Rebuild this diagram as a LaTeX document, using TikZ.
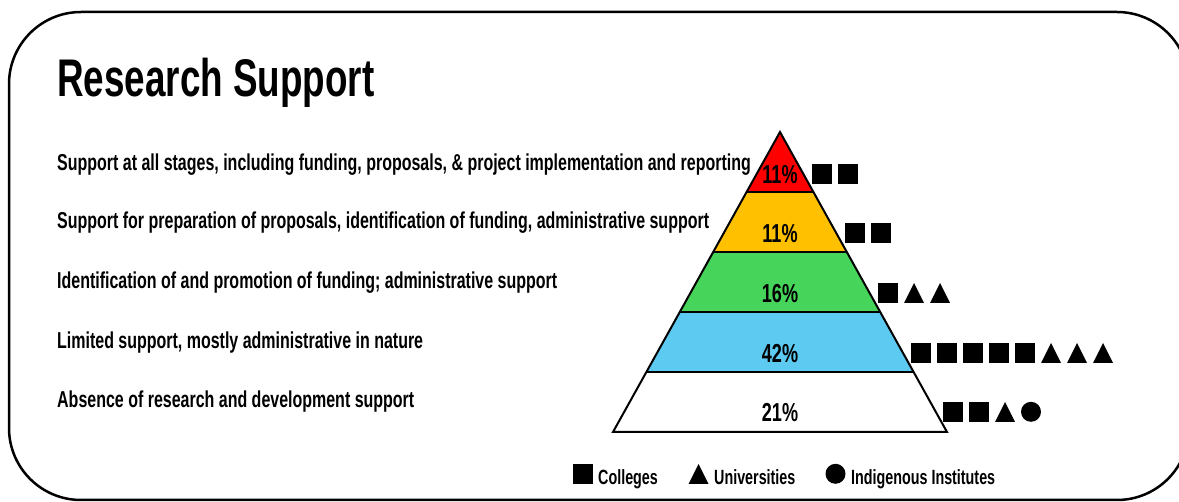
\documentclass[tikz,border=0pt]{standalone}
\usepackage{fontspec}
\setmainfont{Liberation Sans}[FakeStretch=0.695]
\usetikzlibrary{shapes.geometric,calc}

\definecolor{tierred}{HTML}{FF0000}
\definecolor{tieramber}{HTML}{FFC000}
\definecolor{tiergreen}{HTML}{47D45A}
\definecolor{tierblue}{HTML}{5DCAF2}

\begin{document}
\begin{tikzpicture}[
    x=1pt,y=-1pt,
	item/.style={anchor=base west, inner sep=0, font=\bfseries\fontsize{23}{27}\selectfont},
	pct/.style={anchor=base, inner sep=0, font=\bfseries\fontsize{26}{30}\selectfont},
	key/.style={anchor=base west, inner sep=0, font=\bfseries\fontsize{20.6}{24}\selectfont},
	sq/.style={fill=black, anchor=south, minimum size=20pt, inner sep=0},
	dot/.style={circle, fill=black, anchor=south, minimum size=20pt, inner sep=0},
	tri/.pic={\fill (-10,0) -- (10,0) -- (0,-20) -- cycle;}
]
\useasboundingbox (0,0) rectangle (1179,502);
\draw[line width=2.5pt, rounded corners=72pt] (9,12) rectangle (1189,500);

\node[anchor=base west, inner sep=0, font=\bfseries\fontsize{53}{58}\selectfont] (title) at (57,97) {Research Support};

\node[item] (item1) at (57,171) {Support at all stages, including funding, proposals, \& project implementation and reporting};
\node[item] (item2) at (57,229) {Support for preparation of proposals, identification of funding, administrative support};
\node[item] (item3) at (57,289) {Identification of and promotion of funding; administrative support};
\node[item] (item4) at (57,349) {Limited support, mostly administrative in nature};
\node[item] (item5) at (57,408) {Absence of research and development support};

% pyramid
\coordinate (apex) at (780,132);
\coordinate (bl) at (613,432);
\coordinate (br) at (947,432);
\coordinate (l1) at ($(apex)!0.2!(bl)$); \coordinate (r1) at ($(apex)!0.2!(br)$);
\coordinate (l2) at ($(apex)!0.4!(bl)$); \coordinate (r2) at ($(apex)!0.4!(br)$);
\coordinate (l3) at ($(apex)!0.6!(bl)$); \coordinate (r3) at ($(apex)!0.6!(br)$);
\coordinate (l4) at ($(apex)!0.8!(bl)$); \coordinate (r4) at ($(apex)!0.8!(br)$);

\fill[tierred] (apex) -- (r1) -- (l1) -- cycle;
\fill[tieramber] (l1) -- (r1) -- (r2) -- (l2) -- cycle;
\fill[tiergreen] (l2) -- (r2) -- (r3) -- (l3) -- cycle;
\fill[tierblue] (l3) -- (r3) -- (r4) -- (l4) -- cycle;
\draw[line width=2pt] (apex) -- (br) -- (bl) -- cycle;
\draw[line width=2pt] (l1) -- (r1) (l2) -- (r2) (l3) -- (r3) (l4) -- (r4);

\node[pct] (pct1) at (780,184) {11\%};
\node[pct] (pct2) at (780,243) {11\%};
\node[pct] (pct3) at (780,303) {16\%};
\node[pct] (pct4) at (780,363) {42\%};
\node[pct] (pct5) at (780,422) {21\%};

% institution marks
\node[sq] (m11) at (822,184) {}; \node[sq] (m12) at (848,184) {};
\node[sq] (m21) at (855,243) {}; \node[sq] (m22) at (881,243) {};
\node[sq] (m31) at (888,303) {}; \pic (m32) at (914,303) {tri}; \pic (m33) at (940,303) {tri};
\node[sq] (m41) at (921,363) {}; \node[sq] (m42) at (947,363) {}; \node[sq] (m43) at (973,363) {};
\node[sq] (m44) at (999,363) {}; \node[sq] (m45) at (1025,363) {};
\pic (m46) at (1051,363) {tri}; \pic (m47) at (1077,363) {tri}; \pic (m48) at (1103,363) {tri};
\node[sq] (m51) at (953,422) {}; \node[sq] (m52) at (979,422) {}; \pic (m53) at (1005,422) {tri}; \node[dot] (m54) at (1031,422) {};

% legend
\node[sq] (ksq) at (583,484) {};
\node[key] (kcol) at (598,485) {Colleges};
\pic (ktri) at (698.5,484) {tri};
\node[key] (kuni) at (714,485) {Universities};
\node[dot] (kdot) at (835.5,484) {};
\node[key] (kind) at (851,485) {Indigenous Institutes};
\end{tikzpicture}
\end{document}
